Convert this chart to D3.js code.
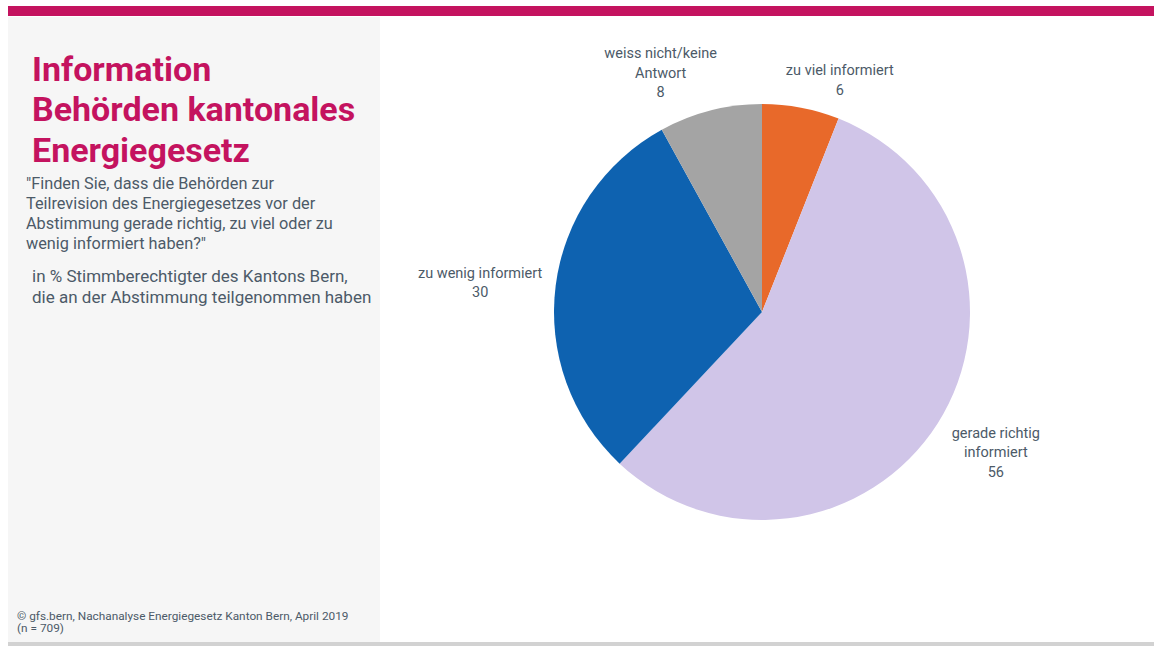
<!DOCTYPE html>
<html>
<head>
<meta charset="utf-8">
<script src="https://cdn.jsdelivr.net/npm/d3@7/dist/d3.min.js"></script>
<style>
  html, body { margin: 0; padding: 0; background: #fff; }
  svg { display: block; }
</style>
</head>
<body>
<svg id="chart" width="1154" height="646"></svg>
<script>
// Survey answers, in % (clockwise from 12 o'clock)
const categories = [
  ["zu viel informiert"],
  ["gerade richtig", "informiert"],
  ["zu wenig informiert"],
  ["weiss nicht/keine", "Antwort"]
];
const values = [6, 56, 30, 8];
const colors = ["#e8692a", "#d0c5e8", "#0e62b0", "#a4a4a4"];

const titleLines = ["Information", "Behörden kantonales", "Energiegesetz"];
const questionLines = [
  "\"Finden Sie, dass die Behörden zur",
  "Teilrevision des Energiegesetzes vor der",
  "Abstimmung gerade richtig, zu viel oder zu",
  "wenig informiert haben?\""
];
const baseLines = [
  "in % Stimmberechtigter des Kantons Bern,",
  "die an der Abstimmung teilgenommen haben"
];
const sourceLines = [
  "© gfs.bern, Nachanalyse Energiegesetz Kanton Bern, April 2019",
  "(n = 709)"
];

const FONT = "Roboto, 'Noto Sans', sans-serif";
const TEXT = "#4c5a68";
const ACCENT = "#c4135f";

const svg = d3.select("#chart");

// page frame: accent bar, side panel, bottom rule
svg.append("rect").attr("x", 8).attr("y", 6).attr("width", 1146).attr("height", 10).attr("fill", ACCENT);
svg.append("rect").attr("x", 8).attr("y", 17).attr("width", 372).attr("height", 625).attr("fill", "#f6f6f6");
svg.append("rect").attr("x", 8).attr("y", 642).attr("width", 1146).attr("height", 4).attr("fill", "#d2d2d2");

// heading
svg.append("g").selectAll("text").data(titleLines).join("text")
  .attr("x", 32).attr("y", (d, i) => 80.5 + i * 40.5)
  .attr("font-family", FONT).attr("font-weight", 700).attr("font-size", 34)
  .attr("fill", ACCENT).text(d => d);

svg.append("g").selectAll("text").data(questionLines).join("text")
  .attr("x", 26).attr("y", (d, i) => 188.5 + i * 20)
  .attr("font-family", FONT).attr("font-size", 16.3)
  .attr("fill", TEXT).text(d => d);

svg.append("g").selectAll("text").data(baseLines).join("text")
  .attr("x", 32).attr("y", (d, i) => 282 + i * 20.5)
  .attr("font-family", FONT).attr("font-size", 17)
  .attr("fill", TEXT).text(d => d);

// source note
svg.append("g").selectAll("text").data(sourceLines).join("text")
  .attr("x", 17).attr("y", (d, i) => 619.5 + i * 12.5)
  .attr("font-family", FONT).attr("font-size", 11.8)
  .attr("fill", TEXT).text(d => d);

// pie
const cx = 762, cy = 312, radius = 208;
const pie = d3.pie().sort(null).value(d => d.value);
const arcs = pie(values.map((v, i) => ({ value: v, label: categories[i], color: colors[i] })));
const arc = d3.arc().innerRadius(0).outerRadius(radius);

const g = svg.append("g").attr("transform", `translate(${cx},${cy})`);
g.selectAll("path").data(arcs).join("path")
  .attr("d", arc).attr("fill", d => d.data.color);

// outside labels: anchor just beyond the rim, box pushed away from the centre
const lineH = 19.5;
const labelNudge = [[27, -1], [5, 9], [-13, 0], [-34, -2]];
const labelArc = d3.arc().innerRadius(radius + 8).outerRadius(radius + 8);
const labels = g.selectAll("g.lab").data(arcs).join("g").attr("class", "lab");
labels.each(function(d, i) {
  const a = (d.startAngle + d.endAngle) / 2;
  const lines = d.data.label.concat([String(d.data.value)]);
  const [ax, ay] = labelArc.centroid(d);
  const halfW = 55, halfH = lines.length * lineH / 2;
  const x = ax + halfW * Math.sin(a) + labelNudge[i][0];
  const y = ay - halfH * Math.cos(a) + labelNudge[i][1];
  d3.select(this).selectAll("text").data(lines).join("text")
    .attr("x", x)
    .attr("y", (t, k) => y - halfH + lineH * (k + 0.5))
    .attr("dy", "0.35em")
    .attr("text-anchor", "middle")
    .attr("font-family", FONT).attr("font-size", 14.5)
    .attr("fill", TEXT).text(t => t);
});
</script>
</body>
</html>
